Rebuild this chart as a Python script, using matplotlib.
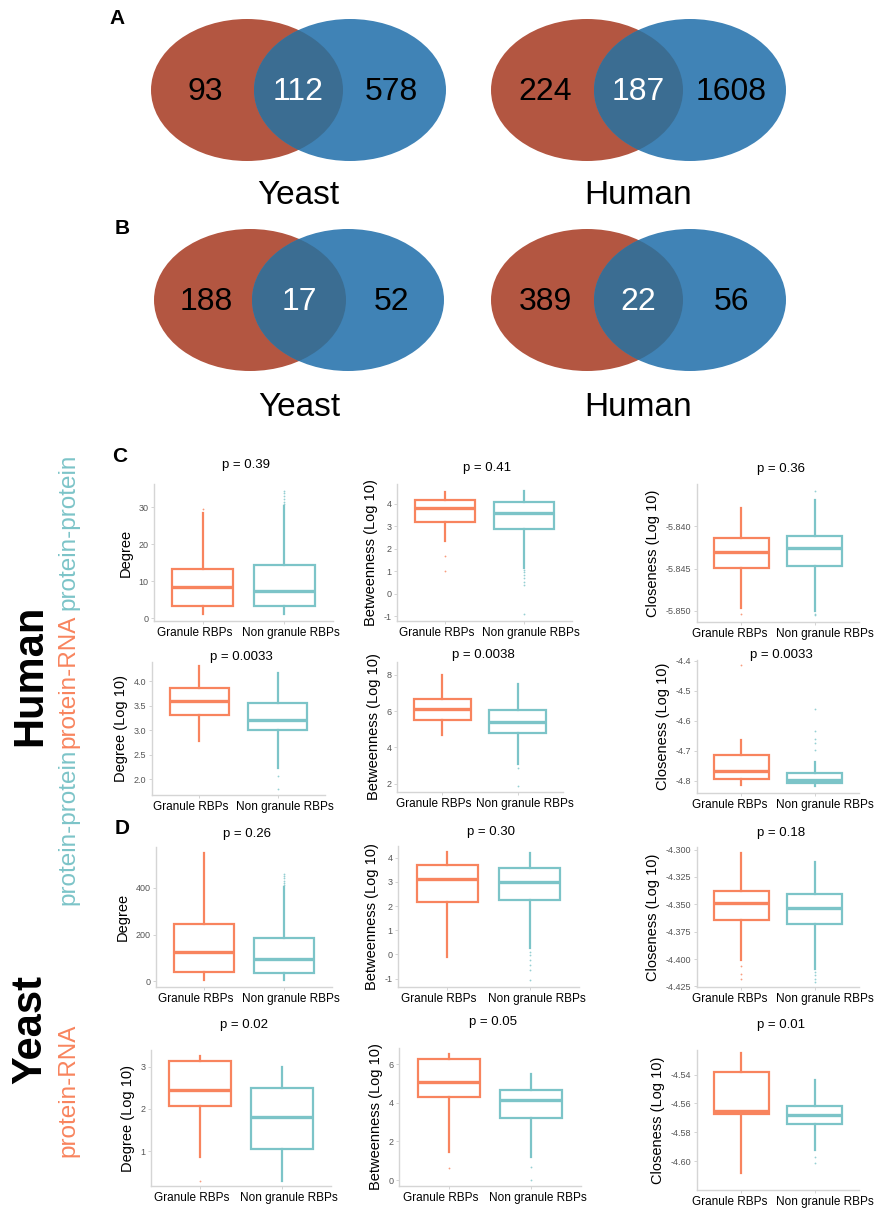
import matplotlib
matplotlib.use("Agg")
import matplotlib.pyplot as plt
from matplotlib.patches import Ellipse

plt.rcParams['font.family'] = ['Liberation Sans', 'DejaVu Sans']

W, H = 887, 1210

# ---------------- Venn data ----------------
venn_a_yeast = [93, 112, 578]
venn_a_human = [224, 187, 1608]
venn_b_yeast = [188, 17, 52]
venn_b_human = [389, 22, 56]
species = ["Yeast", "Human"]

# ---------------- Boxplot data ----------------
groups = ["Granule RBPs", "Non granule RBPs"]
# each stat list: [whislo, q1, median, q3, whishi]
hpp_deg_g = [1.3, 3.4, 8.4, 13.4, 28.5];   hpp_deg_g_fl = [29.5]
hpp_deg_n = [1.3, 3.4, 7.3, 14.3, 30.3];   hpp_deg_n_fl = [30.8, 31.5, 32.3, 33.0, 33.8, 34.5]
hpp_bet_g = [2.32, 3.19, 3.8, 4.15, 4.51]; hpp_bet_g_fl = [1.69, 1.0]
hpp_bet_n = [1.13, 2.87, 3.6, 4.07, 4.56]; hpp_bet_n_fl = [1.06, 0.95, 0.85, 0.7, 0.5, 0.4, -0.9]
hpp_clo_g = [-5.8496, -5.8449, -5.8430, -5.8414, -5.8378]; hpp_clo_g_fl = [-5.8503]
hpp_clo_n = [-5.8500, -5.8447, -5.8426, -5.8412, -5.8369]; hpp_clo_n_fl = [-5.8358, -5.8503, -5.8505]

hpr_deg_g = [2.79, 3.30, 3.59, 3.87, 4.30]; hpr_deg_g_fl = []
hpr_deg_n = [2.23, 3.00, 3.21, 3.55, 4.17]; hpr_deg_n_fl = [2.07, 1.81]
hpr_bet_g = [4.7, 5.49, 6.14, 6.68, 8.0];   hpr_bet_g_fl = []
hpr_bet_n = [3.1, 4.79, 5.4, 6.07, 7.5];    hpr_bet_n_fl = [2.85, 1.88]
hpr_clo_g = [-4.813, -4.795, -4.766, -4.713, -4.663]; hpr_clo_g_fl = [-4.415]
hpr_clo_n = [-4.816, -4.808, -4.798, -4.773, -4.738]; hpr_clo_n_fl = [-4.56, -4.635, -4.66, -4.675, -4.697]

ypp_deg_g = [4, 38, 127, 244, 548];   ypp_deg_g_fl = []
ypp_deg_n = [4, 37, 95, 185, 403];    ypp_deg_n_fl = [410, 420, 430, 440, 450, 460]
ypp_bet_g = [-0.1, 2.18, 3.14, 3.72, 4.24]; ypp_bet_g_fl = []
ypp_bet_n = [0.25, 2.25, 3.01, 3.57, 4.18]; ypp_bet_n_fl = [0.11, -0.03, -0.24, -0.45, -0.65, -1.07]
ypp_clo_g = [-4.4012, -4.3646, -4.3485, -4.3378, -4.303]; ypp_clo_g_fl = [-4.406, -4.414, -4.418]
ypp_clo_n = [-4.4088, -4.3683, -4.3530, -4.3402, -4.3112]; ypp_clo_n_fl = [-4.412, -4.415, -4.418, -4.421]

ypr_deg_g = [0.85, 2.06, 2.45, 3.13, 3.26]; ypr_deg_g_fl = [0.3]
ypr_deg_n = [0.3, 1.06, 1.82, 2.49, 3.0];   ypr_deg_n_fl = []
ypr_bet_g = [1.44, 4.31, 5.06, 6.26, 6.52]; ypr_bet_g_fl = [0.63]
ypr_bet_n = [1.18, 3.22, 4.12, 4.64, 5.5];  ypr_bet_n_fl = [0.66, 0.0]
ypr_clo_g = [-4.608, -4.567, -4.565, -4.538, -4.525]; ypr_clo_g_fl = []
ypr_clo_n = [-4.592, -4.574, -4.568, -4.562, -4.544]; ypr_clo_n_fl = [-4.597, -4.601]

p_values = ["p = 0.39", "p = 0.41", "p = 0.36",
            "p = 0.0033", "p = 0.0038", "p = 0.0033",
            "p = 0.26", "p = 0.30", "p = 0.18",
            "p = 0.02", "p = 0.05", "p = 0.01"]
y_labels = ["Degree", "Betweenness (Log 10)", "Closeness (Log 10)",
            "Degree (Log 10)", "Betweenness (Log 10)", "Closeness (Log 10)",
            "Degree", "Betweenness (Log 10)", "Closeness (Log 10)",
            "Degree (Log 10)", "Betweenness (Log 10)", "Closeness (Log 10)"]
y_ticks = [[0, 10, 20, 30], [-1, 0, 1, 2, 3, 4], [-5.850, -5.845, -5.840],
           [2.0, 2.5, 3.0, 3.5, 4.0], [2, 4, 6, 8], [-4.8, -4.7, -4.6, -4.5, -4.4],
           [0, 200, 400], [-1, 0, 1, 2, 3, 4], [-4.425, -4.400, -4.375, -4.350, -4.325, -4.300],
           [1, 2, 3], [0, 2, 4, 6], [-4.60, -4.58, -4.56, -4.54]]
y_tick_fmt = ["{:.0f}", "{:.0f}", "{:.3f}", "{:.1f}", "{:.0f}", "{:.1f}",
              "{:.0f}", "{:.0f}", "{:.3f}", "{:.0f}", "{:.0f}", "{:.2f}"]
y_lims = [(-0.7, 36.3), (-1.22, 4.88), (-5.8513, -5.8350),
          (1.68, 4.39), (1.55, 8.7), (-4.84, -4.397),
          (-24, 574), (-1.35, 4.49), (-4.4256, -4.2976),
          (0.17, 3.4), (-0.3, 6.83), (-4.62, -4.523)]

panel_stats = [
    (hpp_deg_g, hpp_deg_g_fl, hpp_deg_n, hpp_deg_n_fl),
    (hpp_bet_g, hpp_bet_g_fl, hpp_bet_n, hpp_bet_n_fl),
    (hpp_clo_g, hpp_clo_g_fl, hpp_clo_n, hpp_clo_n_fl),
    (hpr_deg_g, hpr_deg_g_fl, hpr_deg_n, hpr_deg_n_fl),
    (hpr_bet_g, hpr_bet_g_fl, hpr_bet_n, hpr_bet_n_fl),
    (hpr_clo_g, hpr_clo_g_fl, hpr_clo_n, hpr_clo_n_fl),
    (ypp_deg_g, ypp_deg_g_fl, ypp_deg_n, ypp_deg_n_fl),
    (ypp_bet_g, ypp_bet_g_fl, ypp_bet_n, ypp_bet_n_fl),
    (ypp_clo_g, ypp_clo_g_fl, ypp_clo_n, ypp_clo_n_fl),
    (ypr_deg_g, ypr_deg_g_fl, ypr_deg_n, ypr_deg_n_fl),
    (ypr_bet_g, ypr_bet_g_fl, ypr_bet_n, ypr_bet_n_fl),
    (ypr_clo_g, ypr_clo_g_fl, ypr_clo_n, ypr_clo_n_fl),
]

# axes boxes in pixels: (x0, y0, x1, y1)
panel_boxes = [
    (154, 484, 333, 621), (397, 484, 572, 621), (697, 484, 859, 622),
    (152, 662, 325, 795), (397, 662, 563, 792), (697, 660, 859, 793),
    (156, 847, 332, 987), (398, 846, 579, 987), (697, 847, 859, 987),
    (151, 1050, 331, 1186), (399, 1048, 581, 1186), (697, 1050, 859, 1190),
]
# title centre heights in pixels
title_y = [465, 468, 469, 657, 655, 655, 834, 832, 833, 1025, 1022, 1025]
# horizontal offsets (points) of the two category labels, per column
label_shift_pts = [[-6.0, 5.0], [-6.0, 5.0], [-8.5, 7.5]]

ORANGE = "#F8845E"
TEAL = "#7CC4C8"
RED = "#B35641"
BLUE = "#4083B6"
OVERLAP = "#3B6D92"

fig = plt.figure(figsize=(W / 100, H / 100), dpi=100)

# background axes in pixel coordinates
bg = fig.add_axes([0, 0, 1, 1])
bg.set_xlim(0, W)
bg.set_ylim(H, 0)
bg.axis("off")

def venn(cx_red, cx_blue, cy, counts, name, name_y):
    ew, eh = 192, 142
    red = Ellipse((cx_red, cy), ew, eh, facecolor=RED, edgecolor="none")
    blue = Ellipse((cx_blue, cy), ew, eh, facecolor=BLUE, edgecolor="none")
    over = Ellipse((cx_blue, cy), ew, eh, facecolor=OVERLAP, edgecolor="none")
    bg.add_patch(red)
    bg.add_patch(blue)
    bg.add_patch(over)
    over.set_clip_path(red)
    left_x = (cx_red - ew / 2 + cx_blue - ew / 2) / 2 + 3
    mid_x = (cx_red + ew / 2 + cx_blue - ew / 2) / 2
    right_x = (cx_red + ew / 2 + cx_blue + ew / 2) / 2 - 3
    bg.text(left_x, cy + 2, str(counts[0]), fontsize=23, ha="center", va="center", color="black")
    bg.text(mid_x, cy + 2, str(counts[1]), fontsize=23, ha="center", va="center", color="white")
    bg.text(right_x, cy + 2, str(counts[2]), fontsize=23, ha="center", va="center", color="black")
    bg.text((cx_red + cx_blue) / 2, name_y, name, fontsize=24, ha="center", va="center", color="black")

venn(247, 350, 90, venn_a_yeast, species[0], 195)
venn(587, 690, 90, venn_a_human, species[1], 195)
venn(250, 348, 300, venn_b_yeast, species[0], 407)
venn(587, 690, 300, venn_b_human, species[1], 407)

bg.text(117, 18, "A", fontsize=15, fontweight="bold", ha="center", va="center")
bg.text(122, 228, "B", fontsize=15, fontweight="bold", ha="center", va="center")
bg.text(120, 457, "C", fontsize=15, fontweight="bold", ha="center", va="center")
bg.text(122, 829, "D", fontsize=15, fontweight="bold", ha="center", va="center")

# side labels
bg.text(30, 675, "Human", fontsize=30, fontweight="bold", rotation=90, ha="center", va="center")
bg.text(30, 1030, "Yeast", fontsize=30, fontweight="bold", rotation=90, ha="center", va="center")
bg.text(68, 532, "protein-protein", fontsize=17.5, color=TEAL, rotation=90, ha="center", va="center")
bg.text(68, 681, "protein-RNA", fontsize=17.5, color=ORANGE, rotation=90, ha="center", va="center")
bg.text(68, 827, "protein-protein", fontsize=17.5, color=TEAL, rotation=90, ha="center", va="center")
bg.text(68, 1090, "protein-RNA", fontsize=17.5, color=ORANGE, rotation=90, ha="center", va="center")

def mk(stats, fl, label):
    return dict(whislo=stats[0], q1=stats[1], med=stats[2], q3=stats[3], whishi=stats[4],
                fliers=fl, label=label)

for i, (box, st) in enumerate(zip(panel_boxes, panel_stats)):
    x0, y0, x1, y1 = box
    ax = fig.add_axes([x0 / W, 1 - y1 / H, (x1 - x0) / W, (y1 - y0) / H])
    g, gfl, n, nfl = st
    bx = [mk(g, gfl, groups[0]), mk(n, nfl, groups[1])]
    for j, (s, col) in enumerate(zip(bx, [ORANGE, TEAL])):
        ax.bxp([s], positions=[j + 1], widths=0.75, patch_artist=True, showcaps=False,
               boxprops=dict(facecolor="white", edgecolor=col, linewidth=1.6),
               whiskerprops=dict(color=col, linewidth=1.6),
               medianprops=dict(color=col, linewidth=2.4),
               flierprops=dict(marker="o", markersize=1.3, markerfacecolor=col,
                               markeredgecolor="none", alpha=0.8))
    ax.set_xlim(0.4, 2.6)
    ax.set_ylim(*y_lims[i])
    ax.set_xticks([1, 2])
    ax.set_xticklabels(["", ""])
    for j, (name, dx) in enumerate(zip(groups, label_shift_pts[i % 3])):
        ax.annotate(name, xy=(j + 1, 0), xycoords=ax.get_xaxis_transform(),
                    xytext=(dx, -4), textcoords="offset points",
                    ha="center", va="top", fontsize=8.5, color="black",
                    annotation_clip=False)
    ax.set_yticks(y_ticks[i])
    ax.set_yticklabels([y_tick_fmt[i].format(v) for v in y_ticks[i]], fontsize=6.5, color="#555555")
    ax.tick_params(axis="both", length=2, width=0.6, color="#CCCCCC", pad=2)
    for side in ["top", "right"]:
        ax.spines[side].set_visible(False)
    for side in ["left", "bottom"]:
        ax.spines[side].set_color("#D5D5D5")
        ax.spines[side].set_linewidth(1.0)
    ax.set_facecolor("none")
    ax.set_ylabel(y_labels[i], fontsize=10.5, labelpad=4)
    bg.text((x0 + x1) / 2 + 3, title_y[i], p_values[i], fontsize=9.5, ha="center", va="center")

fig.savefig("out.png", dpi=100)
